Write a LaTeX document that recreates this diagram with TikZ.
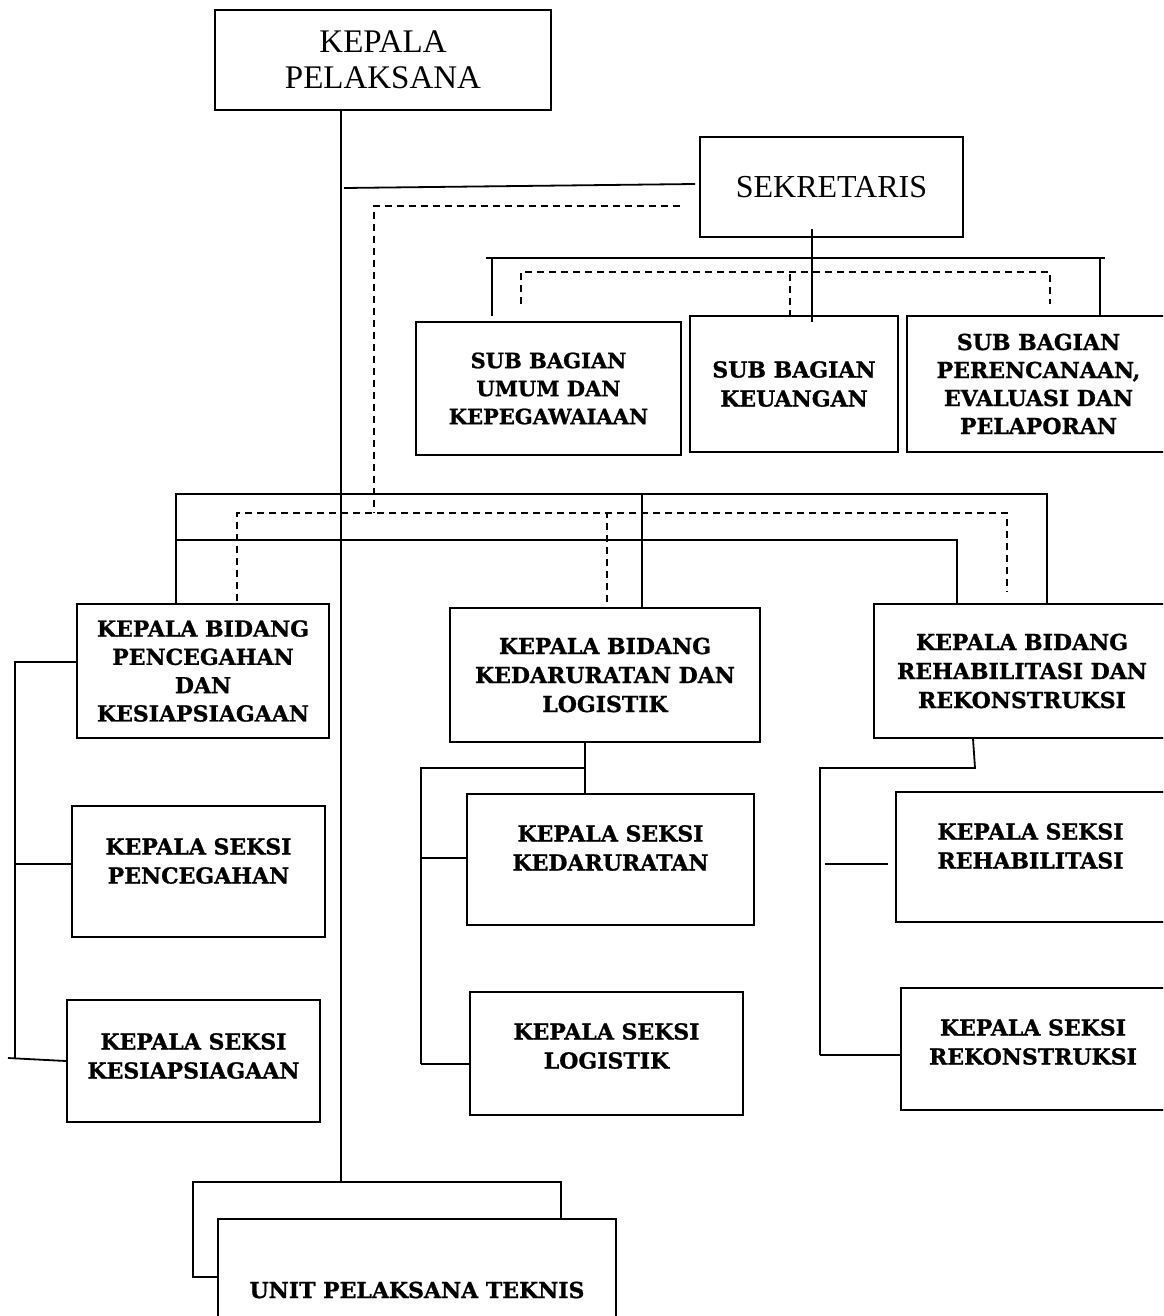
\documentclass[tikz,border=0pt]{standalone}
\usepackage{fontspec}
\newfontfamily\headfont{Liberation Serif}
\newfontfamily\boxfont[BoldFeatures={FakeBold=1}]{DejaVu Serif}

\begin{document}
\begin{tikzpicture}[x=1pt,y=-1pt,
  box/.style={draw,line width=2pt,fill=white,inner sep=0pt,align=center,font=\boxfont\bfseries\fontsize{22}{29}\selectfont},
  head/.style={box,line width=1.8pt,font=\headfont\fontsize{33}{36}\selectfont},
  txt/.style={align=center,inner sep=0pt,font=\boxfont\bfseries\fontsize{22}{29}\selectfont},
  link/.style={line width=1.8pt},
  spine/.style={line width=1.3pt},
  dashlink/.style={line width=1.6pt,dash pattern=on 7pt off 5pt}]
\useasboundingbox (0,0) rectangle (1163,1316);
\clip (0,0) rectangle (1163,1316);

\node[head,minimum width=336pt,minimum height=100pt] (kp) at (383,60) {KEPALA\\PELAKSANA};
\node[head,minimum width=263pt,minimum height=100pt,font=\headfont\fontsize{32}{36}\selectfont] (sek) at (831.5,187) {SEKRETARIS};

\node[box,minimum width=265pt,minimum height=133pt,font=\boxfont\bfseries\fontsize{21}{28}\selectfont] (sbUmum) at (548.5,388.5) {SUB BAGIAN\\UMUM DAN\\KEPEGAWAIAAN};
\node[box,minimum width=208pt,minimum height=136pt] (sbKeu) at (794,384) {SUB BAGIAN\\KEUANGAN};
\node[box,minimum width=263pt,minimum height=136pt,font=\boxfont\bfseries\fontsize{22}{28}\selectfont] (sbRen) at (1038.5,384) {SUB BAGIAN\\PERENCANAAN,\\EVALUASI DAN\\PELAPORAN};

\node[box,minimum width=252pt,minimum height=134pt,font=\boxfont\bfseries\fontsize{22}{28.3}\selectfont] (kbPen) at (203,671) {KEPALA BIDANG\\PENCEGAHAN\\DAN\\KESIAPSIAGAAN};
\node[box,minimum width=310pt,minimum height=134pt] (kbKed) at (605,675) {KEPALA BIDANG\\KEDARURATAN DAN\\LOGISTIK};
\node[box,minimum width=296pt,minimum height=134pt] (kbReh) at (1022,671) {KEPALA BIDANG\\REHABILITASI DAN\\REKONSTRUKSI};

\node[box,minimum width=253pt,minimum height=131pt,label={[txt,yshift=10.5pt]center:KEPALA SEKSI\\PENCEGAHAN}] (skPen) at (198.5,871.5) {};
\node[box,minimum width=253pt,minimum height=122pt,label={[txt,yshift=5pt]center:KEPALA SEKSI\\KESIAPSIAGAAN}] (skKes) at (193.5,1061) {};
\node[box,minimum width=287pt,minimum height=131pt,label={[txt,yshift=11.5pt]center:KEPALA SEKSI\\KEDARURATAN}] (skKed) at (610.5,859.5) {};
\node[box,minimum width=273pt,minimum height=123pt,label={[txt,yshift=7.5pt]center:KEPALA SEKSI\\LOGISTIK}] (skLog) at (606.5,1053.5) {};
\node[box,minimum width=279pt,minimum height=130pt,label={[txt,xshift=-5pt,yshift=11pt]center:KEPALA SEKSI\\REHABILITASI}] (skReh) at (1035.5,857) {};
\node[box,minimum width=274pt,minimum height=122pt,label={[txt,xshift=-5pt,yshift=7pt]center:KEPALA SEKSI\\REKONSTRUKSI}] (skRek) at (1038,1049) {};

\node[box,minimum width=368pt,minimum height=95pt] (uptBack) at (377,1229.5) {};
\node[box,minimum width=398pt,minimum height=142pt] (upt) at (417,1290) {UNIT PELAKSANA TEKNIS};

% garis komando
\coordinate (spineX) at (341,0);
\draw[spine] (kp.south -| spineX) -- (uptBack.north -| spineX);
\draw[link] ([xshift=3pt,yshift=-1pt]spineX |- sek.west) -- ([xshift=-4pt,yshift=3pt]sek.west);

% garis koordinasi
\coordinate (dBus) at (374,513);
\draw[dashlink] ([xshift=-19pt,yshift=-19pt]sek.west) -| (dBus);
\draw[dashlink] ([xshift=34pt,yshift=2pt]kbPen.north) |- (dBus) -| ([xshift=-15pt,yshift=11pt]kbReh.north);
\draw[dashlink] ([xshift=2pt,yshift=5pt]kbKed.north) -- ([xshift=2pt]kbKed.north |- dBus);

% sekretariat
\coordinate (sbBusL) at (486,258);
\coordinate (sbBusR) at (1105,258);
\draw[link] ([xshift=-19.5pt,yshift=9pt]sek.south) -- ([xshift=18pt,yshift=-7pt]sbKeu.north);
\draw[link] (sbBusL) -- (sbBusR);
\draw[link] ([xshift=-56.5pt,yshift=5pt]sbUmum.north) -- ([xshift=-56.5pt]sbUmum.north |- sbBusL);
\draw[link] ([xshift=61.5pt]sbRen.north) -- ([xshift=61.5pt]sbRen.north |- sbBusR);
\coordinate (dSb) at (790,272);
\draw[dashlink] ([xshift=-27.5pt,yshift=17pt]sbUmum.north) |- (dSb) -| ([xshift=11.5pt,yshift=11pt]sbRen.north);
\draw[dashlink] ([xshift=-4pt,yshift=-2pt]sbKeu.north) -- (dSb);

% bidang
\coordinate (bidBus) at (642,494);
\coordinate (bid2) at (176,540);
\draw[link] ([xshift=-27pt]kbPen.north) |- (bidBus) -| ([xshift=25pt]kbReh.north);
\draw[link] ([xshift=37pt]kbKed.north) -- (bidBus);
\draw[link] (bid2) -| ([xshift=-65pt]kbReh.north);

% seksi kiri
\coordinate (lTop) at (15,662);
\coordinate (lBot) at (15,1059);
\coordinate (lEnd) at (8,1058);
\draw[link] ([yshift=9pt]kbPen.west) -- (lTop) -- (lBot);
\draw[link] ([yshift=7.5pt]skPen.west) -- ([yshift=7.5pt]skPen.west -| lTop);
\draw[link] (lEnd) -- (skKes.west);

% seksi tengah
\coordinate (mTop) at (421,768);
\coordinate (mBot) at (421,1064);
\draw[link] ([xshift=-20pt]kbKed.south) -- ([xshift=-25.5pt]skKed.north);
\draw[link] (mBot) |- ([xshift=-20pt]kbKed.south |- mTop);
\draw[link] ([yshift=1.5pt]skKed.west) -- ([yshift=1.5pt]skKed.west -| mTop);
\draw[link] ([yshift=-10.5pt]skLog.west) -- (mBot);

% seksi kanan
\coordinate (rJ) at (975,768);
\coordinate (rBot) at (820,1055);
\coordinate (rStub) at (825,864);
\draw[link] ([xshift=-49pt]kbReh.south) -- (rJ) -| (rBot);
\draw[link] (rBot) -- ([yshift=-6pt]skRek.west);
\draw[link] (rStub) -- ([xshift=-7pt,yshift=-7pt]skReh.west);
\end{tikzpicture}
\end{document}
